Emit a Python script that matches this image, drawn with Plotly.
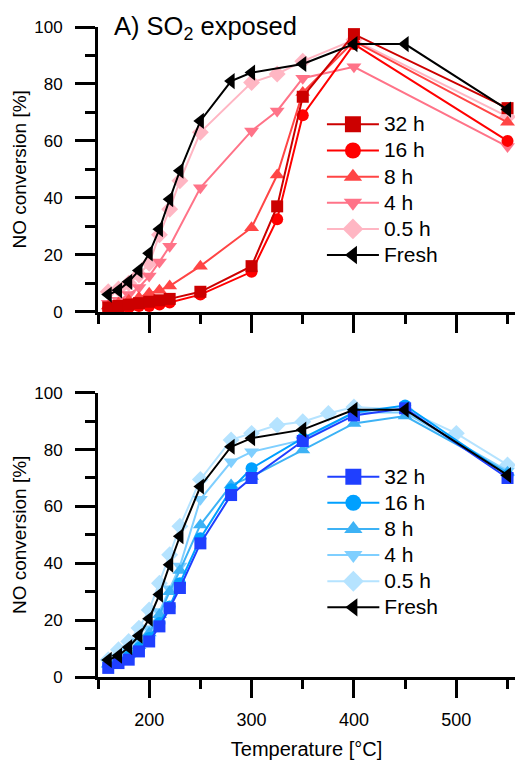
import plotly.graph_objects as go

# ---------------- data ----------------
t_fresh = [160, 170, 180, 190, 200, 210, 220, 230, 250, 280, 300, 350, 400, 450, 550]
fresh = [6, 7.5, 10.5, 14.5, 20.5, 29, 39.5, 49.5, 67, 81, 84, 87, 94, 94, 71]

# Panel A: SO2 exposed
tA = [160, 170, 180, 190, 200, 210, 220, 250, 300, 325, 350, 400, 550]
a32 = [1.5, 2, 2.5, 3, 3.5, 4, 4.5, 7, 16, 37, 75.5, 97.5, 71.5]
a16 = [1, 1.2, 1.5, 2, 2, 2.5, 3.2, 6, 14, 32.5, 69, 94, 60]
a8 = [2, 3, 4, 5, 6.5, 7.5, 9, 16, 29.5, 48, 77, 95, 66.5]
a4 = [3, 4, 6, 8.5, 12.5, 17.5, 23, 43.5, 63.5, 70.5, 82, 86, 58]
tA05 = [160, 170, 180, 190, 200, 210, 220, 230, 250, 300, 325, 350, 400, 550]
a05 = [7, 8, 10, 13, 17, 27, 36, 46, 63, 80.5, 83.5, 88, 95.5, 68.5]

# Panel B: Regenerated
tB = [160, 170, 180, 190, 200, 210, 220, 230, 250, 280, 300, 350, 400, 450, 550]
b32 = [3.2, 4.9, 6.1, 9, 12.5, 17.8, 24.2, 31.3, 47, 64, 70, 83, 92, 94.5, 70]
b16 = [4, 5.5, 7.2, 10.2, 13.7, 19, 24.8, 33, 48.8, 66, 73.4, 84, 93, 95.5, 71]
b8 = [4.5, 6, 8, 11, 15.5, 21.9, 30, 37.5, 53.5, 67.5, 70.5, 79.8, 89.2, 91.8, 72]
b4 = [5, 7, 9, 12.5, 17, 23, 31, 39, 62.5, 75.7, 79.2, 83.4, 93, 93, 72.5]
tB05 = [160, 170, 180, 190, 200, 210, 220, 230, 250, 280, 300, 325, 350, 375, 400, 450, 500, 550]
b05 = [6.1, 9.6, 12.5, 17.2, 23.6, 33, 43, 53, 69.5, 83.4, 85.7, 88.6, 89.8, 92.7, 95, 94, 85.7, 74.6]

labels = ["32 h", "16 h", "8 h", "4 h", "0.5 h", "Fresh"]
symbols = ["square", "circle", "triangle-up", "triangle-down", "diamond", "triangle-left"]
sizes = [12, 12, 13, 13, 13, 14]
colors_A = ["#CC0000", "#FF0000", "#FF4545", "#FF7388", "#FFB6C3", "#000000"]
colors_B = ["#1F3FFF", "#00A0FF", "#3DB2F5", "#7FCFFF", "#B5E3FF", "#000000"]

series_A = [(tA, a32), (tA, a16), (tA, a8), (tA, a4), (tA05, a05), (t_fresh, fresh)]
series_B = [(tB, b32), (tB, b16), (tB, b8), (tB, b4), (tB05, b05), (t_fresh, fresh)]

FONT = "Liberation Sans, Arial, sans-serif"

fig = go.Figure()

def add_panel(series, colors, xa, ya, legend_name):
    # data traces: drawn lightest first so darker / Fresh sit on top
    for i in [4, 3, 2, 1, 0, 5]:
        xs, ys = series[i]
        fig.add_trace(go.Scatter(
            x=xs, y=ys, mode="lines+markers", xaxis=xa, yaxis=ya,
            line=dict(color=colors[i], width=2),
            marker=dict(symbol=symbols[i], size=sizes[i], color=colors[i], line=dict(width=0)),
            showlegend=False, cliponaxis=False, hoverinfo="skip"))
    # legend entries
    for i in range(6):
        fig.add_trace(go.Scatter(
            x=[None], y=[None], mode="lines+markers", xaxis=xa, yaxis=ya,
            name='<span style="font-size:21px">%s</span>' % labels[i],
            line=dict(color=colors[i], width=2),
            marker=dict(symbol=symbols[i], size=16, color=colors[i], line=dict(width=0)),
            legend=legend_name, showlegend=True))

add_panel(series_A, colors_A, "x", "y", "legend")
add_panel(series_B, colors_B, "x2", "y2", "legend2")

xcommon = dict(range=[150, 557.3], showline=True, linewidth=3, linecolor="black",
               ticks="outside", ticklen=18, tickwidth=2.5, tickcolor="black",
               tick0=0, dtick=100, showgrid=False, zeroline=False,
               minor=dict(ticks="outside", dtick=50, tick0=0, ticklen=9, tickwidth=2.5,
                          tickcolor="black", showgrid=False),
               tickfont=dict(family=FONT, size=18, color="black"), automargin=False,
               ticklabelstandoff=6)
ycommon = dict(range=[0, 100], showline=True, linewidth=3, linecolor="black",
               ticks="outside", ticklen=20, tickwidth=2.5, tickcolor="black",
               tick0=0, dtick=20, showgrid=False, zeroline=False,
               minor=dict(ticks="outside", dtick=10, tick0=0, ticklen=10, tickwidth=2.5,
                          tickcolor="black", showgrid=False),
               tickfont=dict(family=FONT, size=17, color="black"), automargin=False,
               ticklabelstandoff=9,
               title=dict(text="NO conversion [%]", font=dict(family=FONT, size=19, color="black"),
                          standoff=3))

fig.update_layout(
    width=515, height=760,
    margin=dict(l=98, r=0, t=27, b=83),
    paper_bgcolor="white", plot_bgcolor="white",
    font=dict(family=FONT, color="black"),
    xaxis=dict(**xcommon, domain=[0, 1], anchor="y", showticklabels=False),
    xaxis2=dict(**xcommon, domain=[0, 1], anchor="y2", matches="x",
                title=dict(text="Temperature [°C]", font=dict(family=FONT, size=20, color="black"))),
    yaxis=dict(**ycommon, domain=[0.562, 1], anchor="x"),
    yaxis2=dict(**ycommon, domain=[0, 0.4374], anchor="x2"),
    legend=dict(x=0.537, y=0.878, xanchor="left", yanchor="top", bgcolor="rgba(0,0,0,0)",
                font=dict(family=FONT, size=17.8, color="black"), itemwidth=52,
                traceorder="normal", tracegroupgap=0),
    legend2=dict(x=0.538, y=0.336, xanchor="left", yanchor="top", bgcolor="rgba(0,0,0,0)",
                 font=dict(family=FONT, size=17.8, color="black"), itemwidth=52,
                 traceorder="normal", tracegroupgap=0),
    showlegend=True,
    annotations=[
        dict(text="A) SO<sub>2</sub> exposed", xref="x", yref="y", x=164, y=99.5,
             xanchor="left", yanchor="middle", showarrow=False,
             font=dict(family=FONT, size=25.5, color="black")),
        dict(text="B) Regenerated", xref="x2", yref="y2", x=166, y=104.5,
             xanchor="left", yanchor="middle", showarrow=False,
             font=dict(family=FONT, size=25.5, color="black")),
    ],
)

fig.write_html("out.html", config={"displayModeBar": False},
               post_script="document.body.style.margin='0';document.body.style.overflow='hidden';")
